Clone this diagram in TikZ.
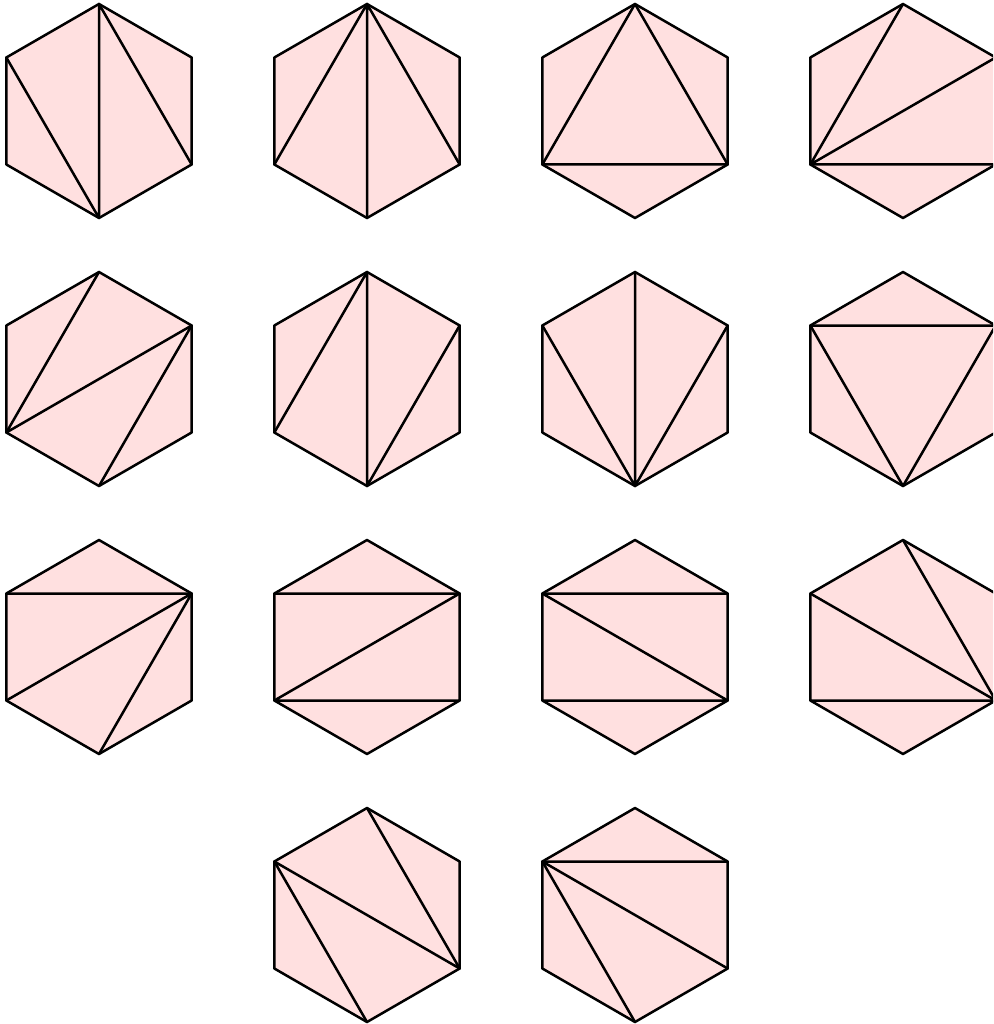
\documentclass[tikz,border=0pt]{standalone}
\definecolor{hexfill}{HTML}{FFE0E0}
\tikzset{
  hexface/.style={fill=hexfill,draw=black,line width=2.5pt,line join=round},
  diag/.style={draw=black,line width=2.5pt,line cap=round}
}
\newcommand{\mkhex}[3]{%
  \coordinate (#1T)  at (#2,#3-107);
  \coordinate (#1UR) at (#2+92.66,#3-53.5);
  \coordinate (#1LR) at (#2+92.66,#3+53.5);
  \coordinate (#1B)  at (#2,#3+107);
  \coordinate (#1LL) at (#2-92.66,#3+53.5);
  \coordinate (#1UL) at (#2-92.66,#3-53.5);
  \path[hexface] (#1T) -- (#1UR) -- (#1LR) -- (#1B) -- (#1LL) -- (#1UL) -- cycle;
}
\begin{document}
\begin{tikzpicture}[x=1pt,y=-1pt]
\useasboundingbox (0,0) rectangle (993,1024);
\clip (0,0) rectangle (993,1024);
% row 1
\mkhex{a}{99}{111}
\draw[diag] (aUL) -- (aB) (aT) -- (aB) (aT) -- (aLR);
\mkhex{b}{367}{111}
\draw[diag] (bT) -- (bLL) (bT) -- (bB) (bT) -- (bLR);
\mkhex{c}{635}{111}
\draw[diag] (cT) -- (cLL) (cT) -- (cLR) (cLL) -- (cLR);
\mkhex{d}{903}{111}
\draw[diag] (dT) -- (dLL) (dLL) -- (dUR) (dLL) -- (dLR);
% row 2
\mkhex{e}{99}{379}
\draw[diag] (eT) -- (eLL) (eLL) -- (eUR) (eUR) -- (eB);
\mkhex{f}{367}{379}
\draw[diag] (fT) -- (fLL) (fT) -- (fB) (fB) -- (fUR);
\mkhex{g}{635}{379}
\draw[diag] (gUL) -- (gB) (gT) -- (gB) (gB) -- (gUR);
\mkhex{h}{903}{379}
\draw[diag] (hUL) -- (hUR) (hUL) -- (hB) (hB) -- (hUR);
% row 3
\mkhex{i}{99}{647}
\draw[diag] (iUL) -- (iUR) (iLL) -- (iUR) (iUR) -- (iB);
\mkhex{j}{367}{647}
\draw[diag] (jUL) -- (jUR) (jLL) -- (jUR) (jLL) -- (jLR);
\mkhex{k}{635}{647}
\draw[diag] (kUL) -- (kUR) (kUL) -- (kLR) (kLL) -- (kLR);
\mkhex{l}{903}{647}
\draw[diag] (lT) -- (lLR) (lUL) -- (lLR) (lLL) -- (lLR);
% row 4
\mkhex{m}{367}{915}
\draw[diag] (mUL) -- (mLR) (mUL) -- (mB) (mT) -- (mLR);
\mkhex{n}{635}{915}
\draw[diag] (nUL) -- (nUR) (nUL) -- (nLR) (nUL) -- (nB);
\end{tikzpicture}
\end{document}
